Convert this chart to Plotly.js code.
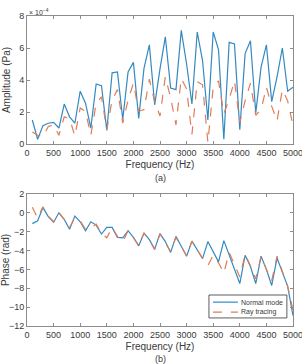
<!DOCTYPE html>
<html>
<head>
<meta charset="utf-8">
<script src="https://cdn.plot.ly/plotly-3.0.1.min.js"></script>
<style>
  html, body { margin: 0; padding: 0; background: #fff; }
  #chart { width: 302px; height: 364px; }
</style>
</head>
<body>
<div id="chart"></div>
<script>
// Frequencies (Hz)
const freq = [100, 200, 300, 400, 500, 600, 700, 800, 900, 1000,
  1100, 1200, 1300, 1400, 1500, 1600, 1700, 1800, 1900, 2000,
  2100, 2200, 2300, 2400, 2500, 2600, 2700, 2800, 2900, 3000,
  3100, 3200, 3300, 3400, 3500, 3600, 3700, 3800, 3900, 4000,
  4100, 4200, 4300, 4400, 4500, 4600, 4700, 4800, 4900, 5000];

// Amplitude, in units of 1e-4 Pa
const ampNormal = [1.5, 0.3, 1.15, 1.3, 1.35, 1.0, 2.5, 1.7, 1.3, 3.3,
  2.55, 1.0, 3.75, 3.65, 0.85, 4.45, 4.5, 1.55, 4.5, 5.1,
  1.6, 4.75, 6.2, 2.45, 4.7, 6.7, 3.5, 3.4, 7.1, 5.0,
  2.5, 7.0, 5.2, 1.5, 7.0, 5.9, 0.3, 6.35, 6.25, 0.9,
  5.65, 6.45, 1.95, 4.8, 6.2, 2.65, 4.2, 6.0, 3.3, 3.55];
const ampRay = [0.75, 0.55, 0.45, 1.1, 1.2, 0.55, 1.7, 1.6, 0.5, 2.25,
  2.05, 0.55, 2.55, 2.95, 0.9, 2.75, 3.4, 1.3, 2.75, 3.8,
  2.05, 2.15, 4.05, 2.65, 1.75, 4.2, 2.9, 1.2, 4.1, 3.45,
  0.6, 3.9, 3.7, 0.1, 3.55, 3.95, 1.9, 2.8, 3.95, 1.35,
  2.7, 3.8, 1.8, 2.15, 3.55, 2.35, 1.45, 3.4, 2.7, 1.15];

// Phase (rad)
const phaseNormal = [-1.15, -0.85, 0.55, -0.4, -1.0, 0.0, -0.7, -1.75, -0.35, -0.95,
  -1.9, -0.95, -1.3, -2.25, -1.55, -1.55, -2.6, -2.65, -1.9, -2.6,
  -3.5, -2.15, -2.85, -3.85, -2.2, -3.05, -4.2, -2.5, -3.55, -4.6,
  -3.0, -3.95, -4.85, -3.05, -4.1, -5.2, -2.95, -4.4, -5.9, -7.5,
  -4.5, -5.7, -7.5, -4.6, -6.0, -7.7, -4.8, -6.4, -7.8, -10.9];
const phaseRay = [0.6, -0.55, 0.65, -0.35, -0.95, 0.0, -0.7, -1.55, -0.5, -0.85,
  -1.75, -1.6, -1.2, -2.2, -2.65, -1.55, -2.5, -3.1, -1.9, -2.6,
  -3.5, -2.15, -2.9, -3.9, -2.25, -3.15, -4.1, -2.6, -3.55, -4.55,
  -3.0, -3.95, -4.85, -5.6, -4.5, -5.3, -6.4, -4.2, -5.6, -6.8,
  -4.4, -5.6, -7.0, -4.6, -6.0, -7.2, -4.6, -6.3, -7.8, -10.3];

const seriesNames = ['Normal mode', 'Ray tracing'];

const xTicks = [0, 500, 1000, 1500, 2000, 2500, 3000, 3500, 4000, 4500, 5000];
const ampTicks = [0, 2, 4, 6, 8];
const phaseTicks = [2, 0, -2, -4, -6, -8, -10, -12];

const blue = '#3389c0';
const orange = '#df7d5a';
const axisColor = '#8c8c8c';
const textColor = '#3a3a3a';
const family = 'Liberation Sans, Arial, sans-serif';
const font = { family: family, size: 9, color: textColor };
const titleFont = { family: family, size: 10, color: textColor };

const traces = [
  { x: freq, y: ampNormal, xaxis: 'x', yaxis: 'y', mode: 'lines', name: seriesNames[0],
    line: { color: blue, width: 1.2 } },
  { x: freq, y: ampRay, xaxis: 'x', yaxis: 'y', mode: 'lines', name: seriesNames[1],
    line: { color: orange, width: 1.2, dash: 'dash' } },
  { x: freq, y: phaseNormal, xaxis: 'x2', yaxis: 'y2', mode: 'lines', name: seriesNames[0],
    line: { color: blue, width: 1.2 } },
  { x: freq, y: phaseRay, xaxis: 'x2', yaxis: 'y2', mode: 'lines', name: seriesNames[1],
    line: { color: orange, width: 1.2, dash: 'dash' } }
];

function commonAxis() {
  return {
    ticks: 'inside', ticklen: 3, tickcolor: axisColor,
    showline: true, linecolor: axisColor, linewidth: 1, mirror: 'ticks',
    showgrid: false, zeroline: false, tickfont: font, ticklabeloverflow: 'allow'
  };
}

function xAxis(anchor) {
  return Object.assign(commonAxis(), {
    anchor: anchor, domain: [0, 1], range: [0, 5000], tickvals: xTicks,
    title: { text: 'Frequency (Hz)', font: titleFont, standoff: 4 }
  });
}

// Compact legend box in the lower-right corner of the phase panel
const legX0 = 0.684, legX1 = 0.977, legY0 = 0.026, legY1 = 0.1;
const sampleX0 = 0.699, sampleX1 = 0.793, textX = 0.797;
const rowY = [0.077, 0.045];

const legendShapes = [
  { type: 'rect', xref: 'paper', yref: 'paper', x0: legX0, x1: legX1, y0: legY0, y1: legY1,
    fillcolor: '#fff', line: { color: '#333', width: 0.8 }, layer: 'above' },
  { type: 'line', xref: 'paper', yref: 'paper', x0: sampleX0, x1: sampleX1, y0: rowY[0], y1: rowY[0],
    line: { color: blue, width: 1.2 }, layer: 'above' },
  { type: 'line', xref: 'paper', yref: 'paper', x0: sampleX0, x1: sampleX1, y0: rowY[1], y1: rowY[1],
    line: { color: orange, width: 1.2, dash: 'dash' }, layer: 'above' }
];

const legendLabels = seriesNames.map((name, i) => ({
  text: name, xref: 'paper', yref: 'paper', x: textX, y: rowY[i],
  xanchor: 'left', yanchor: 'middle', showarrow: false,
  font: { family: family, size: 7, color: textColor }
}));

const layout = {
  width: 302, height: 364,
  margin: { l: 27, r: 9, t: 16, b: 38 },
  paper_bgcolor: '#fff', plot_bgcolor: '#fff',
  font: font,
  showlegend: false,
  xaxis: xAxis('y'),
  xaxis2: xAxis('y2'),
  yaxis: Object.assign(commonAxis(), {
    anchor: 'x', domain: [0.587, 1], range: [0, 8], tickvals: ampTicks,
    title: { text: 'Amplitude (Pa)', font: titleFont, standoff: 6 }
  }),
  yaxis2: Object.assign(commonAxis(), {
    anchor: 'x2', domain: [0, 0.426], range: [-12, 2], tickvals: phaseTicks,
    title: { text: 'Phase (rad)', font: titleFont, standoff: 4 }
  }),
  shapes: legendShapes,
  annotations: [
    { text: '\u00d7 10<sup>\u22124</sup>', xref: 'paper', yref: 'paper', x: 0, y: 1, yshift: -2,
      xanchor: 'left', yanchor: 'bottom', showarrow: false,
      font: { family: family, size: 7, color: textColor } },
    { text: '(a)', xref: 'paper', yref: 'paper', x: 0.5, y: 0.587, yshift: -34,
      xanchor: 'center', yanchor: 'middle', showarrow: false, font: font },
    { text: '(b)', xref: 'paper', yref: 'paper', x: 0.5, y: 0, yshift: -33,
      xanchor: 'center', yanchor: 'middle', showarrow: false, font: font }
  ].concat(legendLabels)
};

Plotly.newPlot('chart', traces, layout, { displayModeBar: false, staticPlot: true });
</script>
</body>
</html>
